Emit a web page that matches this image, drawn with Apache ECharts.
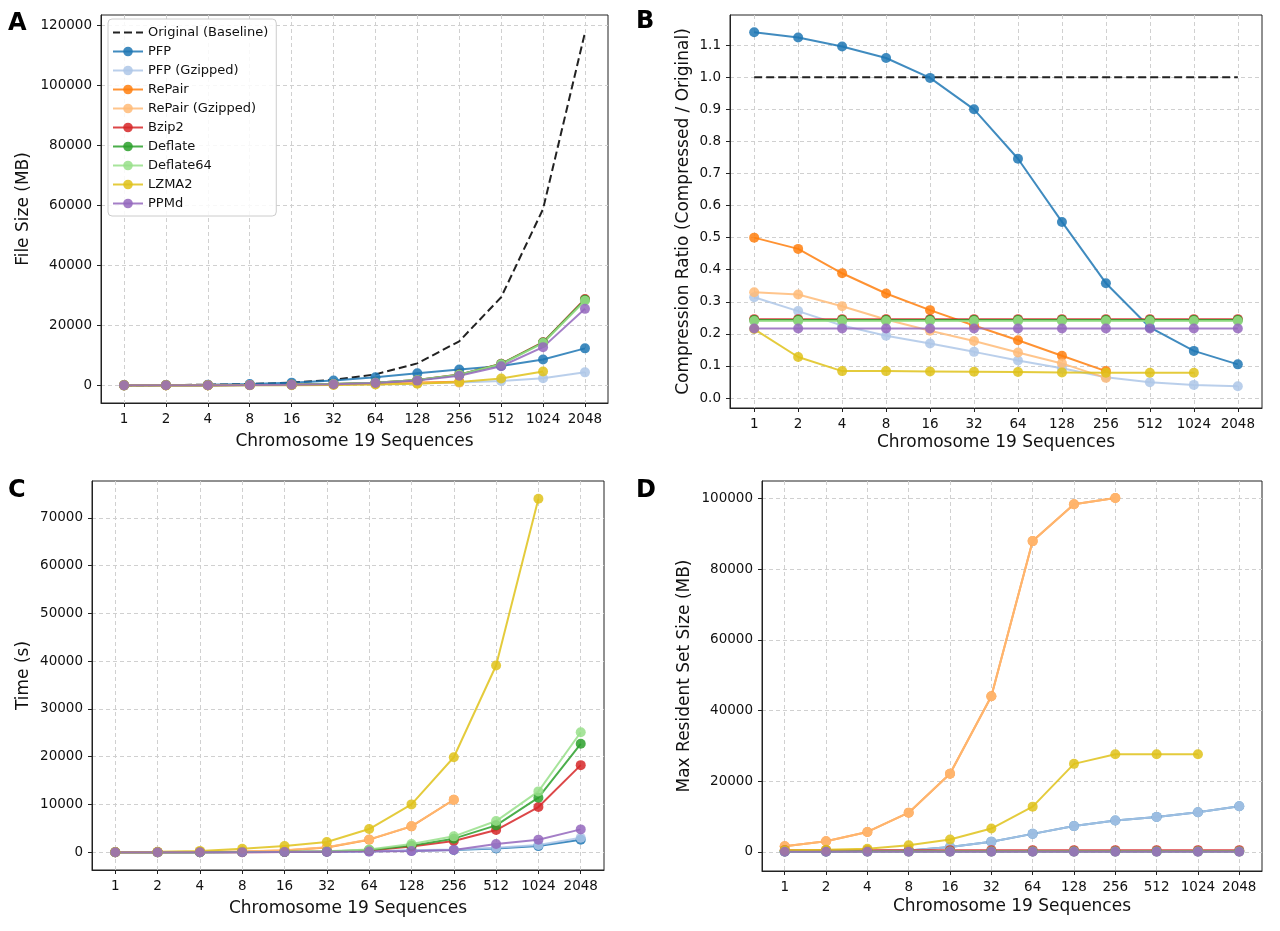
<!DOCTYPE html>
<html>
<head>
<meta charset="utf-8">
<script src="https://cdn.jsdelivr.net/npm/echarts@6/dist/echarts.min.js"></script>
<style>
  html, body { margin: 0; padding: 0; background: #fff; }
  #chart { width: 1280px; height: 931px; }
</style>
</head>
<body>
<div id="chart"></div>
<script>
// categories
const seqLabels = ["1", "2", "4", "8", "16", "32", "64", "128", "256", "512", "1024", "2048"];

// A: file size (MB)
const sizeBaseline = [57, 115, 230, 459, 918, 1837, 3674, 7347, 14695, 29390, 58780, 117560];
const sizePfp = [65, 129, 252, 487, 916, 1653, 2741, 4033, 5261, 6466, 8641, 12344];
const sizePfpGz = [18, 31, 52, 89, 156, 265, 430, 680, 948, 1440, 2410, 4350];
const sizeRepair = [29, 53, 89, 150, 252, 417, 661, 970, 1234];
const sizeRepairGz = [19, 37, 66, 112, 193, 327, 522, 794, 926];
const sizeBzip2 = [14, 28, 56, 112, 225, 450, 900, 1800, 3600, 7200, 14400, 28800];
const sizeDeflate = [14, 28, 56, 112, 223, 446, 893, 1785, 3571, 7142, 14284, 28567];
const sizeDeflate64 = [14, 28, 55, 110, 220, 441, 882, 1763, 3527, 7054, 14107, 28214];
const sizeLzma2 = [12, 15, 19, 39, 76, 151, 298, 580, 1161, 2322, 4644];
const sizePpmd = [12, 25, 50, 100, 199, 399, 797, 1594, 3189, 6378, 12755, 25510];

// B: compression ratio
const ratioBaseline = [1, 1, 1, 1, 1, 1, 1, 1, 1, 1, 1, 1];
const ratioPfp = [1.14, 1.124, 1.096, 1.06, 0.998, 0.9, 0.746, 0.549, 0.358, 0.22, 0.147, 0.105];
const ratioPfpGz = [0.314, 0.271, 0.226, 0.194, 0.17, 0.144, 0.117, 0.093, 0.065, 0.049, 0.041, 0.037];
const ratioRepair = [0.5, 0.465, 0.389, 0.326, 0.274, 0.226, 0.18, 0.132, 0.084];
const ratioRepairGz = [0.33, 0.323, 0.286, 0.245, 0.21, 0.178, 0.142, 0.108, 0.063];
const ratioBzip2 = [0.246, 0.246, 0.246, 0.246, 0.246, 0.246, 0.246, 0.246, 0.246, 0.246, 0.246, 0.246];
const ratioDeflate = [0.243, 0.243, 0.243, 0.243, 0.243, 0.243, 0.243, 0.243, 0.243, 0.243, 0.243, 0.243];
const ratioDeflate64 = [0.24, 0.24, 0.24, 0.24, 0.24, 0.24, 0.24, 0.24, 0.24, 0.24, 0.24, 0.24];
const ratioLzma2 = [0.215, 0.128, 0.084, 0.084, 0.083, 0.082, 0.081, 0.08, 0.079, 0.079, 0.079];
const ratioPpmd = [0.217, 0.217, 0.217, 0.217, 0.217, 0.217, 0.217, 0.217, 0.217, 0.217, 0.217, 0.217];

// C: time (s)
const timePfp = [10, 20, 30, 50, 80, 120, 200, 350, 500, 800, 1300, 2650];
const timePfpGz = [12, 22, 35, 60, 95, 140, 240, 420, 600, 950, 1550, 3050];
const timeRepair = [20, 40, 90, 180, 400, 1000, 2650, 5430, 11000];
const timeRepairGz = [22, 42, 95, 190, 420, 1050, 2700, 5450, 11000];
const timeBzip2 = [5, 10, 20, 40, 80, 160, 400, 1200, 2360, 4660, 9470, 18240];
const timeDeflate = [6, 12, 24, 48, 95, 190, 500, 1400, 2860, 5640, 11430, 22700];
const timeDeflate64 = [7, 14, 28, 55, 110, 220, 600, 1740, 3340, 6540, 12750, 25130];
const timeLzma2 = [60, 120, 300, 750, 1300, 2150, 4870, 10030, 19900, 39100, 74000];
const timePpmd = [5, 10, 20, 40, 60, 100, 150, 250, 480, 1740, 2650, 4800];

// D: max resident set size (MB)
const memPfp = [100, 150, 250, 400, 1400, 2900, 5100, 7300, 8900, 9900, 11200, 12900];
const memPfpGz = [100, 150, 250, 400, 1400, 2900, 5100, 7300, 8900, 9900, 11200, 12900];
const memRepair = [1600, 3000, 5650, 11100, 22100, 44000, 87900, 98300, 100100];
const memRepairGz = [1600, 3000, 5650, 11100, 22100, 44000, 87900, 98300, 100100];
const memBzip2 = [500, 500, 500, 500, 500, 500, 500, 500, 500, 500, 500, 500];
const memDeflate = [150, 150, 150, 150, 150, 150, 150, 150, 150, 150, 150, 150];
const memDeflate64 = [150, 150, 150, 150, 150, 150, 150, 150, 150, 150, 150, 150];
const memLzma2 = [500, 600, 900, 1900, 3500, 6600, 12800, 24900, 27600, 27600, 27600];
const memPpmd = [30, 30, 30, 30, 30, 30, 30, 30, 30, 30, 30, 30];

// y tick values
const ticksA = [0, 20000, 40000, 60000, 80000, 100000, 120000];
const ticksB = [0, 0.1, 0.2, 0.3, 0.4, 0.5, 0.6, 0.7, 0.8, 0.9, 1.0, 1.1];
const ticksC = [0, 10000, 20000, 30000, 40000, 50000, 60000, 70000];
const ticksD = [0, 20000, 40000, 60000, 80000, 100000];
const xTicks = [0, 1, 2, 3, 4, 5, 6, 7, 8, 9, 10, 11];

const FONT = "DejaVu Sans";
const colors = {
    "PFP": "#1f77b4",
    "PFP (Gzipped)": "#aec7e8",
    "RePair": "#ff7f0e",
    "RePair (Gzipped)": "#ffbb78",
    "Bzip2": "#d62728",
    "Deflate": "#2ca02c",
    "Deflate64": "#98df8a",
    "LZMA2": "#dfc21a",
    "PPMd": "#9467bd",
};

// dashed icon for the baseline entry in the legend
const DASH_ICON = "path://M0,5h7v2h-7zM11,5h8v2h-8zM23,5h7v2h-7z";

const grids = [
    { left: 101, top: 15, width: 507, height: 388 },
    { left: 730, top: 15, width: 532, height: 393 },
    { left: 92, top: 481, width: 512, height: 389 },
    { left: 762, top: 481, width: 500, height: 390 },
];

const gridLine = { show: true, lineStyle: { color: "#d0d0d0", type: [4, 3], width: 1 } };

const makeX = (gi, nameGap) => ({
    type: "value",
    gridIndex: gi,
    min: -0.55,
    max: 11.55,
    name: "Chromosome 19 Sequences",
    nameLocation: "middle",
    nameGap: nameGap,
    nameTextStyle: { fontFamily: FONT, fontSize: 17, color: "#111" },
    axisLine: { show: true, onZero: false, lineStyle: { color: "#222", width: 1 } },
    axisTick: { show: true, length: 4, customValues: xTicks, lineStyle: { color: "#222" } },
    axisLabel: {
        customValues: xTicks,
        fontFamily: FONT,
        fontSize: 13.5,
        color: "#111",
        margin: 9,
        formatter: (v) => seqLabels[Math.round(v)],
    },
    splitLine: gridLine,
});

const makeY = (gi, min, max, ticks, name, nameGap, fmt) => ({
    type: "value",
    gridIndex: gi,
    min: min,
    max: max,
    name: name,
    nameLocation: "middle",
    nameGap: nameGap,
    nameTextStyle: { fontFamily: FONT, fontSize: 17, color: "#111" },
    axisLine: { show: true, onZero: false, lineStyle: { color: "#222", width: 1 } },
    axisTick: { show: true, length: 4, customValues: ticks, lineStyle: { color: "#222" } },
    axisLabel: {
        customValues: ticks,
        fontFamily: FONT,
        fontSize: 13.5,
        color: "#111",
        margin: 9,
        formatter: fmt || ((v) => String(v)),
    },
    splitLine: gridLine,
});

const mk = (name, data, gi) => ({
    name: name,
    type: "line",
    xAxisIndex: gi,
    yAxisIndex: gi,
    data: data.map((v, i) => [i, v]),
    symbol: "circle",
    symbolSize: 10,
    showSymbol: true,
    lineStyle: { width: 2, color: colors[name], opacity: 0.85 },
    itemStyle: { color: colors[name], opacity: 0.85 },
    emphasis: { disabled: true },
});

const mkBase = (data, gi) => ({
    name: "Original (Baseline)",
    type: "line",
    xAxisIndex: gi,
    yAxisIndex: gi,
    data: data.map((v, i) => [i, v]),
    symbol: "none",
    lineStyle: { width: 2, color: "#222", type: [8, 4] },
    itemStyle: { color: "#222" },
    emphasis: { disabled: true },
});

const panel = (gi, d) => [
    mk("PFP", d[0], gi),
    mk("PFP (Gzipped)", d[1], gi),
    mk("RePair", d[2], gi),
    mk("RePair (Gzipped)", d[3], gi),
    mk("Bzip2", d[4], gi),
    mk("Deflate", d[5], gi),
    mk("Deflate64", d[6], gi),
    mk("LZMA2", d[7], gi),
    mk("PPMd", d[8], gi),
];

const series = [
    mkBase(sizeBaseline, 0),
    ...panel(0, [sizePfp, sizePfpGz, sizeRepair, sizeRepairGz, sizeBzip2, sizeDeflate, sizeDeflate64, sizeLzma2, sizePpmd]),
    mkBase(ratioBaseline, 1),
    ...panel(1, [ratioPfp, ratioPfpGz, ratioRepair, ratioRepairGz, ratioBzip2, ratioDeflate, ratioDeflate64, ratioLzma2, ratioPpmd]),
    ...panel(2, [timePfp, timePfpGz, timeRepair, timeRepairGz, timeBzip2, timeDeflate, timeDeflate64, timeLzma2, timePpmd]),
    ...panel(3, [memPfp, memPfpGz, memRepair, memRepairGz, memBzip2, memDeflate, memDeflate64, memLzma2, memPpmd]),
];

const letter = (txt, x, y) => ({
    type: "text",
    left: x,
    top: y,
    style: { text: txt, fontFamily: FONT, fontSize: 24, fontWeight: "bold", fill: "#000" },
});

const legendNames = ["PFP", "PFP (Gzipped)", "RePair", "RePair (Gzipped)", "Bzip2", "Deflate", "Deflate64", "LZMA2", "PPMd"];

const chart = echarts.init(document.getElementById("chart"), null, { renderer: "canvas" });
chart.setOption({
    animation: false,
    backgroundColor: "#fff",
    grid: grids.map((g) => ({ ...g, show: true, borderColor: "#222", borderWidth: 1, backgroundColor: "transparent" })),
    xAxis: [makeX(0, 30), makeX(1, 26), makeX(2, 30), makeX(3, 27)],
    yAxis: [
        makeY(0, -5865, 123437, ticksA, "File Size (MB)", 69),
        makeY(1, -0.031, 1.194, ticksB, "Compression Ratio (Compressed / Original)", 38, (v) => v.toFixed(1)),
        makeY(2, -3700, 77700, ticksC, "Time (s)", 60),
        makeY(3, -5400, 104900, ticksD, "Max Resident Set Size (MB)", 69),
    ],
    legend: {
        left: 108,
        top: 19,
        orient: "vertical",
        itemWidth: 30,
        itemHeight: 12,
        itemGap: 6,
        padding: [7, 8, 6, 4],
        backgroundColor: "rgba(255,255,255,0.85)",
        borderColor: "#cccccc",
        borderWidth: 1,
        borderRadius: 4,
        textStyle: { fontFamily: FONT, fontSize: 13, color: "#111" },
        selectedMode: false,
        data: [
            { name: "Original (Baseline)", icon: DASH_ICON, itemStyle: { color: "#222" } },
            ...legendNames,
        ],
    },
    graphic: [letter("A", 8, 12), letter("B", 636, 10), letter("C", 8, 479), letter("D", 636, 479)],
    series: series,
});
</script>
</body>
</html>
